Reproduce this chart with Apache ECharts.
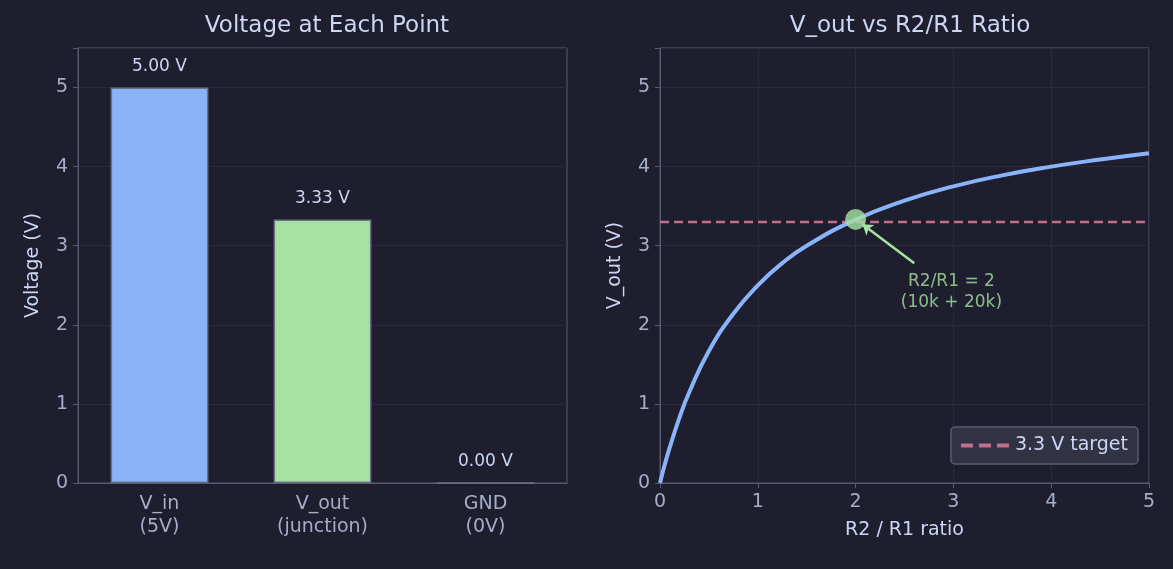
<!DOCTYPE html>
<html><head><meta charset="utf-8">
<script src="https://cdn.jsdelivr.net/npm/echarts@6/dist/echarts.min.js"></script>
<style>html,body{margin:0;background:#1e1e2e}#c{width:1173px;height:569px}</style>
</head><body><div id="c"></div>
<script>
var barCats = ['V_in\n(5V)', 'V_out\n(junction)', 'GND\n(0V)'];
var barVals = [5.0, 3.333, 0.0];
var barColors = ['#89b4fa', '#a6e3a1', '#f38ba8'];
var ratioX = [0, 0.05, 0.1, 0.2, 0.3, 0.5, 0.75, 1, 1.25, 1.5, 2, 2.5, 3, 3.5, 4, 4.5, 5];
var voutY = [0, 0.24, 0.45, 0.83, 1.15, 1.67, 2.14, 2.5, 2.78, 3.0, 3.33, 3.57, 3.75, 3.89, 4.0, 4.09, 4.17];
var target = 3.3;
var markX = 2, markY = 3.333;

var txt = '#cdd6f4', tick = '#a6adc8', spine = '#585b70', grid = '#2a2a3c';
var font = 'DejaVu Sans';
var myChart = echarts.init(document.getElementById('c'));

function yAx(idx, name){
  return {gridIndex: idx, type: 'value', min: 0, max: 5.5, interval: 1,
    name: name, nameLocation: 'middle', nameGap: 35, nameTextStyle: {color: txt, fontSize: 19, fontFamily: font},
    axisLine: {show: true, lineStyle: {color: spine}}, axisTick: {show: true, lineStyle: {color: spine}},
    axisLabel: {color: tick, fontSize: 19, fontFamily: font, margin: 10,
      formatter: function(v){ return v > 5 ? '' : v; }},
    splitLine: {show: true, lineStyle: {color: grid}}};
}

var line = ratioX.map(function(x, i){ return [x, voutY[i]]; });

var option = {
  backgroundColor: '#1e1e2e',
  animation: false,
  textStyle: {fontFamily: font},
  title: [
    {text: 'Voltage at Each Point', left: 322, top: 10, textAlign: 'center', textStyle: {color: txt, fontSize: 23, fontWeight: 'normal', fontFamily: font}},
    {text: 'V_out vs R2/R1 Ratio', left: 905, top: 10, textAlign: 'center', textStyle: {color: txt, fontSize: 23, fontWeight: 'normal', fontFamily: font}}
  ],
  grid: [
    {left: 78, top: 48, width: 489, height: 435, show: true, borderColor: spine, borderWidth: 1},
    {left: 660, top: 48, width: 489, height: 435, show: true, borderColor: spine, borderWidth: 1}
  ],
  xAxis: [
    {gridIndex: 0, type: 'category', data: barCats,
      axisLine: {lineStyle: {color: spine}}, axisTick: {alignWithLabel: true, lineStyle: {color: spine}},
      axisLabel: {color: tick, fontSize: 19, fontFamily: font, lineHeight: 23, margin: 10}},
    {gridIndex: 1, type: 'value', min: 0, max: 5, interval: 1,
      name: 'R2 / R1 ratio', nameLocation: 'middle', nameGap: 38, nameTextStyle: {color: txt, fontSize: 19, fontFamily: font},
      axisLine: {lineStyle: {color: spine}}, axisTick: {show: true, lineStyle: {color: spine}},
      axisLabel: {color: tick, fontSize: 19, fontFamily: font, margin: 10},
      splitLine: {show: true, lineStyle: {color: grid}}}
  ],
  yAxis: [yAx(0, 'Voltage (V)'), yAx(1, 'V_out (V)')],
  legend: {data: [{name: '3.3 V target', icon: 'path://M0,4h6v2h-6zM9,4h6v2h-6zM18,4h6v2h-6z'}],
    right: 35, top: 427, itemWidth: 50, itemHeight: 4, itemGap: 10,
    backgroundColor: '#313244', borderColor: '#585b70', borderWidth: 1.5, borderRadius: 4, padding: [9, 10],
    textStyle: {color: txt, fontSize: 19, fontFamily: font}},
  series: [
    {type: 'bar', xAxisIndex: 0, yAxisIndex: 0, barWidth: '60%',
      data: barVals.map(function(v, i){ return {value: v, itemStyle: {color: barColors[i]}}; }),
      itemStyle: {borderColor: '#6c7086', borderWidth: 1.5},
      label: {show: true, position: 'top', distance: 12, color: txt, fontSize: 17, fontFamily: font,
        formatter: function(p){ return p.value.toFixed(2) + ' V'; }}},
    {type: 'line', xAxisIndex: 1, yAxisIndex: 1, data: line, smooth: true, showSymbol: false,
      lineStyle: {color: '#89b4fa', width: 4}, z: 3},
    {name: '3.3 V target', type: 'line', xAxisIndex: 1, yAxisIndex: 1, data: [[0, target], [5, target]],
      showSymbol: false, color: '#c0708a', lineStyle: {color: '#c0708a', width: 2.5, type: [9, 5]}, z: 2},
    {type: 'scatter', xAxisIndex: 1, yAxisIndex: 1, data: [[markX, markY]], symbolSize: 21,
      itemStyle: {color: '#a6e3a1'}, z: 5,
      markLine: {silent: true, symbol: ['none', 'arrow'], symbolSize: 10,
        lineStyle: {color: '#a6e3a1', width: 2.5, type: 'solid'}, label: {show: false},
        data: [[{coord: [2.6, 2.78]}, {coord: [2.07, 3.27]}]]}},
    {type: 'scatter', xAxisIndex: 1, yAxisIndex: 1, data: [[2.98, 2.42]], symbolSize: 0, silent: true,
      label: {show: true, position: 'inside', color: '#a6e3a1', fontSize: 17, fontFamily: font, lineHeight: 21,
        formatter: 'R2/R1 = 2\n(10k + 20k)'}}
  ]
};
myChart.setOption(option);
</script></body></html>
